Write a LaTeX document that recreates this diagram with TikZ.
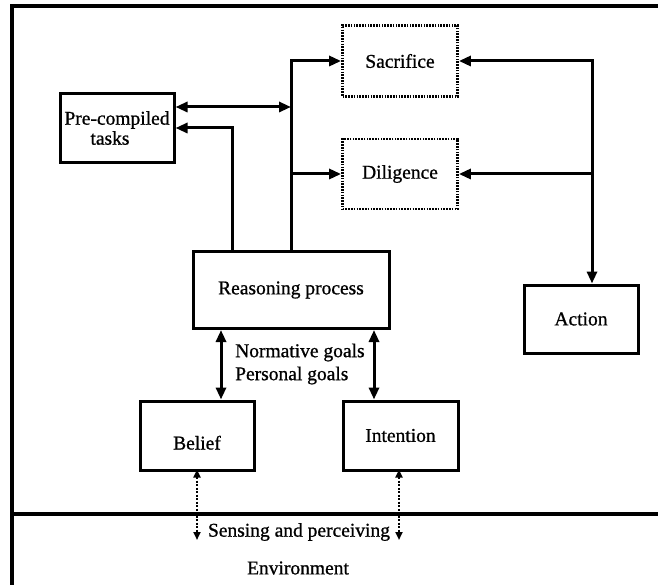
\documentclass[tikz,border=0pt]{standalone}
\usepackage{fontspec}
\setmainfont[FakeBold=0.9]{Liberation Serif}
\usetikzlibrary{arrows.meta}
\begin{document}
\begin{tikzpicture}[x=1pt,y=-1pt,
  every node/.style={font=\fontsize{19.5}{23}\selectfont},
  solidbox/.style={draw,line width=3pt,inner sep=0pt,align=center},
  dotbox/.style={draw,line width=2.8pt,dash pattern=on 1.6pt off 1.2pt,inner sep=0pt,align=center},
  conn/.style={line width=3pt},
  tip/.style={-{Triangle[length=12pt,width=10pt]}},
  bitip/.style={{Triangle[length=12pt,width=10pt]}-{Triangle[length=12pt,width=10pt]}},
  dotconn/.style={line width=2.2pt,dash pattern=on 2pt off 1.5pt,{Triangle[length=8pt,width=7pt]}-{Triangle[length=8pt,width=7pt]}},
  plain/.style={inner sep=0pt}]
\useasboundingbox (0,0) rectangle (658,585);
% frame
\draw[line width=3.2pt] (12,585) -- (12,6) -- (658,6);
\draw[line width=3.2pt] (12,514) -- (658,514);
% boxes
\node[solidbox,minimum width=114,minimum height=69] (pre) at (117,128) {Pre-compiled\\[-3pt]\hspace*{-14pt}tasks};
\node[dotbox,minimum width=115,minimum height=71] (sac) at (400,61) {Sacrifice};
\node[dotbox,minimum width=115,minimum height=70] (dil) at (400,174) {Diligence};
\node[solidbox,minimum width=196,minimum height=77] (reason) at (291,290) {Reasoning process};
\node[solidbox,minimum width=114,minimum height=68] (act) at (581,319) {Action};
\node[solidbox,minimum width=114,minimum height=69,text height=28pt,text depth=0pt] (belief) at (197,435.5) {Belief};
\node[solidbox,minimum width=115,minimum height=69] (intent) at (400.5,435.5) {Intention};
% texts
\node[plain,anchor=west,align=left] (goals) at (235,364) {Normative goals\\Personal goals};
\node[plain] (sense) at (299,532) {Sensing and perceiving};
\node[plain] (env) at (298,568) {Environment};
% coordinates
\coordinate (t1) at (291,61);
\coordinate (t2) at (291,174);
\coordinate (t3) at (291,107);
\coordinate (c4) at (232,128);
\coordinate (a1) at (592,61);
\coordinate (a2) at (592,174);
\coordinate (b1) at (221,0);
\coordinate (i1) at (374,0);
\coordinate (bd) at (197,540);
\coordinate (id) at (399,540);
% connectors
\draw[conn,tip] (reason.north) -- (t1) -- (sac.west);
\draw[conn,tip] (t2) -- (dil.west);
\draw[conn,bitip] (pre.east |- t3) -- (t3);
\draw[conn,tip] (reason.north -| c4) -- (c4) -- (pre.east);
\draw[conn,bitip] (sac.east) -- (a1) -- (act.north -| a1);
\draw[conn,tip] (a2) -- (dil.east);
\draw[conn,bitip] (reason.south -| b1) -- (belief.north -| b1);
\draw[conn,bitip] (reason.south -| i1) -- (intent.north -| i1);
\draw[dotconn] ([yshift=2pt]belief.south) -- (bd);
\draw[dotconn] ([yshift=2pt]intent.south -| id) -- (id);
\end{tikzpicture}
\end{document}
